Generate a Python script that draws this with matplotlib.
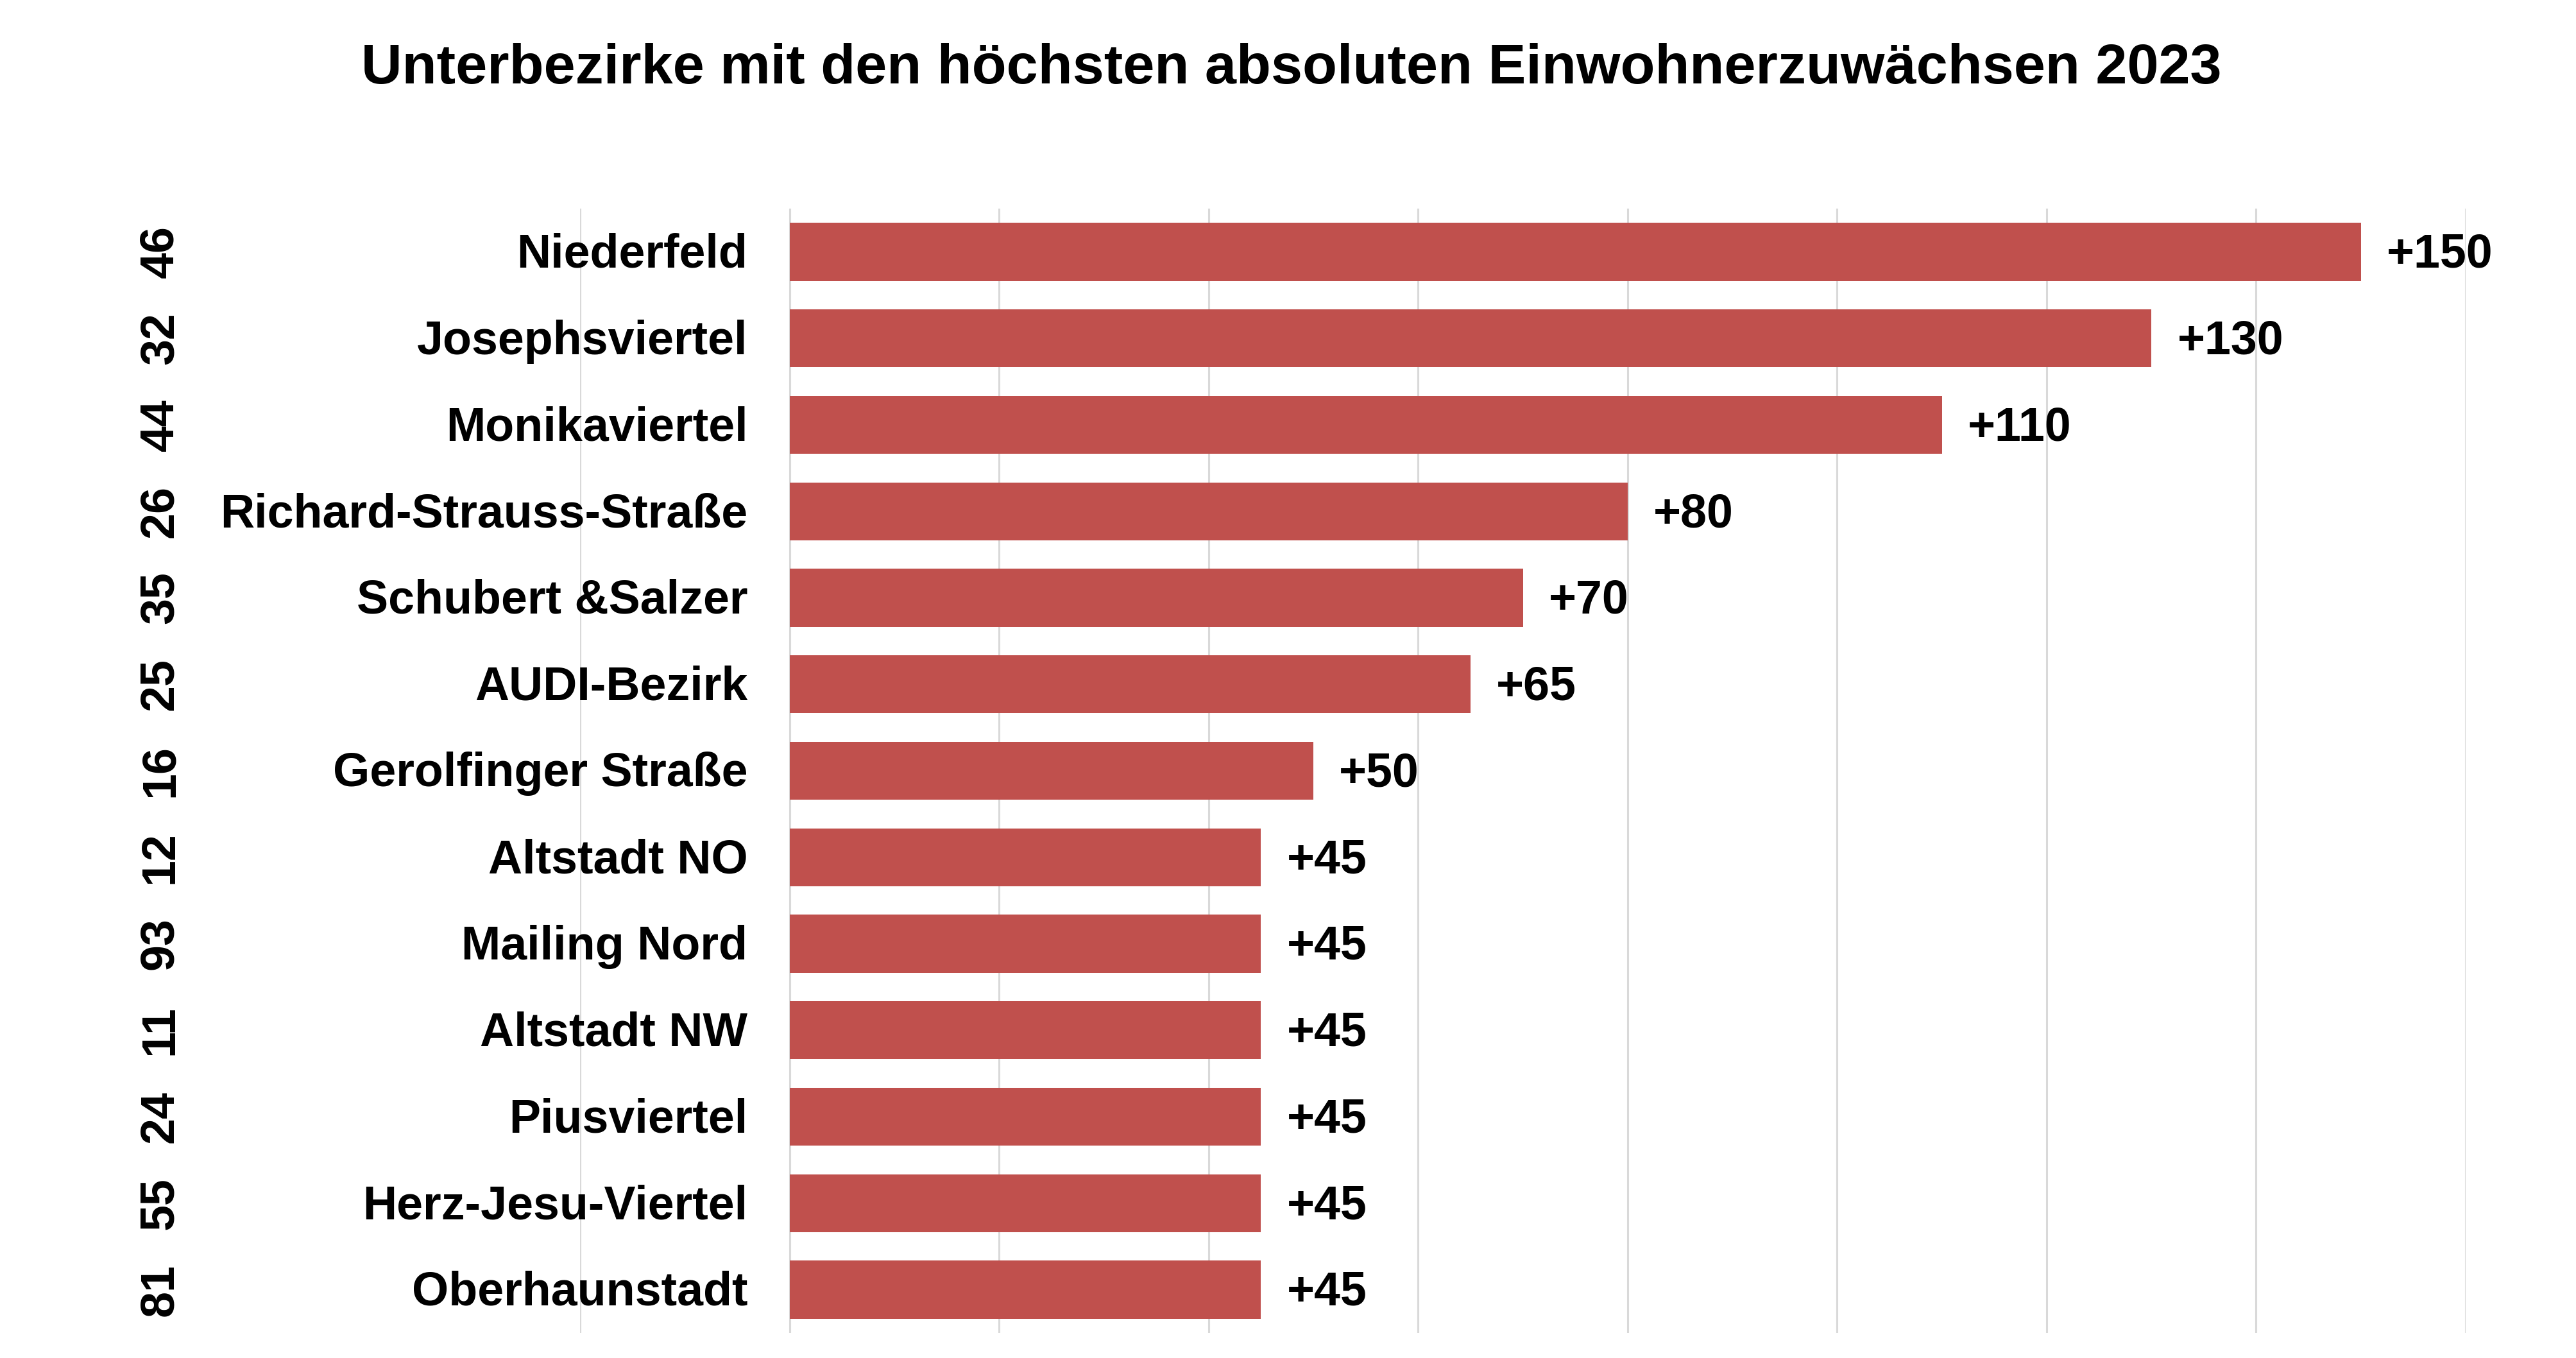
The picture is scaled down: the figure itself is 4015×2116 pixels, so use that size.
import matplotlib
matplotlib.use("Agg")
import matplotlib.pyplot as plt
from matplotlib.transforms import blended_transform_factory

plt.rcParams['font.family'] = ['Liberation Sans', 'DejaVu Sans']

codes = ["46", "32", "44", "26", "35", "25", "16", "12", "93", "11", "24", "55", "81"]
names = ["Niederfeld", "Josephsviertel", "Monikaviertel", "Richard-Strauss-Straße",
         "Schubert &Salzer", "AUDI-Bezirk", "Gerolfinger Straße", "Altstadt NO",
         "Mailing Nord", "Altstadt NW", "Piusviertel", "Herz-Jesu-Viertel", "Oberhaunstadt"]
values = [150, 130, 110, 80, 70, 65, 50, 45, 45, 45, 45, 45, 45]
title = "Unterbezirke mit den höchsten absoluten Einwohnerzuwächsen 2023"

W, H = 4015, 2116
DPI = 100
fig = plt.figure(figsize=(W / DPI, H / DPI), dpi=DPI)
fig.patch.set_facecolor("white")

left, right, top, bottom = 904, 3843, 325, 2077
ax = fig.add_axes([left / W, 1 - bottom / H, (right - left) / W, (bottom - top) / H])

n = len(values)
ypos = list(range(n))
ax.barh(ypos, values, height=0.67, color="#C0504D", zorder=3)
ax.set_xlim(-20, 160)
ax.set_ylim(n - 0.5, -0.5)

ax.set_xticks(range(-20, 161, 20))
ax.xaxis.grid(True, color="#D9D9D9", linewidth=2.2, zorder=0)
ax.tick_params(axis="both", length=0, labelbottom=False, labelleft=False)
for s in ax.spines.values():
    s.set_visible(False)
ax.set_yticks([])

fs = 53
trans = blended_transform_factory(fig.transFigure, ax.transData)
for y, v, name, code in zip(ypos, values, names, codes):
    ax.annotate(f"+{v}", xy=(v, y), xytext=(29, -3.5), textcoords="offset points",
                ha="left", va="center", fontsize=fs, fontweight="bold", zorder=4)
    ax.annotate(name, xy=(0, y), xytext=(-47, -3.5), textcoords="offset points",
                ha="right", va="center", fontsize=fs, fontweight="bold", zorder=4)
    ax.text(250 / W, y, code, transform=trans, rotation=90, ha="center", va="center",
            fontsize=fs, fontweight="bold")

fig.text(2013 / W, 1 - 130 / H, title, ha="center", va="baseline",
         fontsize=63.5, fontweight="bold")

fig.savefig("out.png", dpi=DPI, facecolor="white")
